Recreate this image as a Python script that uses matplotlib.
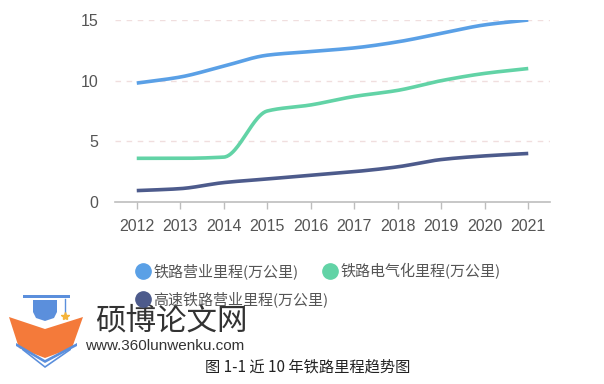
import numpy as np
import matplotlib
matplotlib.use("Agg")
import matplotlib.pyplot as plt
from matplotlib.lines import Line2D
from matplotlib.patches import Polygon, Rectangle

plt.rcParams['font.family'] = ['Noto Sans CJK SC', 'DejaVu Sans']

years = [2012, 2013, 2014, 2015, 2016, 2017, 2018, 2019, 2020, 2021]
rail_total = [9.8, 10.3, 11.2, 12.1, 12.4, 12.7, 13.2, 13.9, 14.6, 15.0]
rail_electric = [3.6, 3.6, 3.7, 7.5, 8.0, 8.7, 9.2, 10.0, 10.6, 11.0]
rail_highspeed = [0.94, 1.1, 1.6, 1.9, 2.2, 2.5, 2.9, 3.5, 3.8, 4.0]
series_names = ['铁路营业里程(万公里)', '铁路电气化里程(万公里)', '高速铁路营业里程(万公里)']
colors = ['#5aa0e6', '#62d3a6', '#4d5b8c']
yticks = [0, 5, 10, 15]


def pchip(x, y, xs):
    x = np.asarray(x, float); y = np.asarray(y, float)
    h = np.diff(x); d = np.diff(y) / h
    n = len(x); m = np.zeros(n)
    for k in range(1, n - 1):
        if d[k - 1] * d[k] <= 0:
            m[k] = 0
        else:
            w1 = 2 * h[k] + h[k - 1]; w2 = h[k] + 2 * h[k - 1]
            m[k] = (w1 + w2) / (w1 / d[k - 1] + w2 / d[k])
    m[0] = d[0]; m[-1] = d[-1]
    out = np.empty_like(xs)
    for i, xv in enumerate(xs):
        k = min(max(np.searchsorted(x, xv) - 1, 0), n - 2)
        t = (xv - x[k]) / h[k]
        h00 = 2 * t**3 - 3 * t**2 + 1; h10 = t**3 - 2 * t**2 + t
        h01 = -2 * t**3 + 3 * t**2; h11 = t**3 - t**2
        out[i] = h00 * y[k] + h10 * h[k] * m[k] + h01 * y[k + 1] + h11 * h[k] * m[k + 1]
    return out


W, H = 604, 384
fig = plt.figure(figsize=(W / 100, H / 100), dpi=100)
ax = fig.add_axes([115 / W, 1 - 202 / H, (550 - 115) / W, (202 - 20) / H])

xs = np.linspace(years[0], years[-1], 400)
for vals, c in zip([rail_total, rail_electric, rail_highspeed], colors):
    ax.plot(xs, pchip(years, vals, xs), color=c, lw=2.6, solid_capstyle='butt', zorder=3)

ax.set_xlim(2011.5, 2021.5)
ax.set_ylim(0, 15)
ax.set_yticks(yticks)
ax.set_xticks(years)
for t in yticks[1:]:
    ax.axhline(t, color='#f0dede', lw=1, ls=(0, (4, 4)), zorder=1)
for s in ['top', 'right', 'left']:
    ax.spines[s].set_visible(False)
ax.spines['bottom'].set_color('#bdbdbd')
ax.spines['bottom'].set_linewidth(1.2)
ax.tick_params(axis='x', length=5, color='#bdbdbd', width=1, pad=7)
ax.tick_params(axis='y', length=0, pad=12)
for lab in ax.get_xticklabels() + ax.get_yticklabels():
    lab.set_family(['Liberation Sans', 'DejaVu Sans'])
    lab.set_fontsize(11.5)
    lab.set_color('#555555')

handles = [Line2D([], [], marker='o', ls='none', markersize=11, markerfacecolor=c,
                  markeredgecolor=c) for c in colors]
leg_kw = dict(loc='upper left', frameon=False, fontsize=10.8, handletextpad=0.2,
              columnspacing=1.6, handlelength=1.0, borderpad=0)
leg1 = fig.legend(handles[:2], series_names[:2], ncol=2,
                  bbox_to_anchor=(128 / W, 1 - 256 / H), **leg_kw)
leg2 = fig.legend(handles[2:], series_names[2:], ncol=1,
                  bbox_to_anchor=(128 / W, 1 - 284 / H), **leg_kw)
for lg in (leg1, leg2):
    for t in lg.get_texts():
        t.set_color('#555555')


# watermark logo
def P(x, y):
    return (x / W, 1 - y / H)

blue = '#5b8fdc'
orange = '#f47a3a'
fig.add_artist(Polygon([P(9, 317), P(45, 329), P(83, 317), P(72, 348), P(45, 358), P(19, 348)],
                       closed=True, transform=fig.transFigure, color=orange, lw=0))
fig.add_artist(Polygon([P(16, 343), P(45, 360), P(77, 343), P(77, 346), P(45, 363), P(16, 346)],
                       closed=True, transform=fig.transFigure, color=blue, lw=0))
fig.add_artist(Polygon([P(22, 348), P(45, 366), P(71, 348), P(71, 350), P(45, 368), P(22, 350)],
                       closed=True, transform=fig.transFigure, color=blue, lw=0))
fig.add_artist(Rectangle(P(23, 298), 47 / W, 3 / H, transform=fig.transFigure, color=blue, lw=0))
fig.add_artist(Polygon([P(33, 300), P(57, 300), P(57, 312), P(54, 318), P(45, 321), P(36, 318), P(33, 312)],
                       closed=True, transform=fig.transFigure, color=blue, lw=0))
fig.add_artist(Line2D([65 / W, 65 / W], [1 - 299 / H, 1 - 313 / H], transform=fig.transFigure,
                      color=blue, lw=1))
fig.add_artist(Line2D([65 / W], [1 - 316 / H], transform=fig.transFigure, marker='*',
                      color='#f5b43a', markersize=6, ls='none'))

fig.text(95 / W, 1 - 321 / H, '硕博论文网', fontsize=22, color='#333333', va='center', ha='left')
fig.text(85 / W, 1 - 346 / H, 'www.360lunwenku.com', fontsize=11, color='#333333', va='center',
         ha='left', family=['Liberation Sans', 'DejaVu Sans'])
fig.text(308 / W, 1 - 367 / H, '图 1-1 近 10 年铁路里程趋势图', fontsize=11, color='#222222',
         va='center', ha='center')

fig.savefig('out.png', dpi=100)
